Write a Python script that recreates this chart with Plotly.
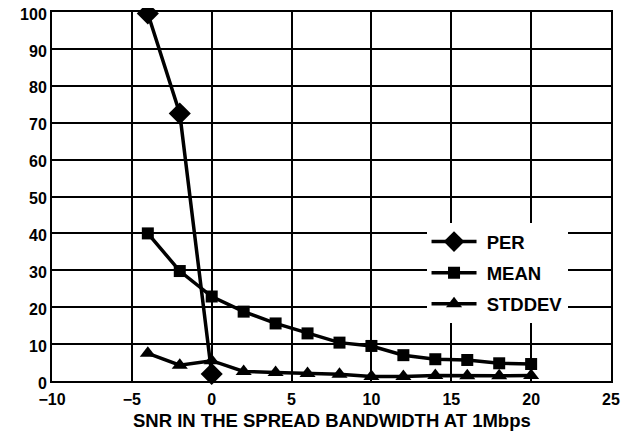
import plotly.graph_objects as go

snr_per = [-4, -2, 0]
per = [99.6, 72.5, 1.9]

snr = [-4, -2, 0, 2, 4, 6, 8, 10, 12, 14, 16, 18, 20]
mean = [40, 29.8, 22.9, 18.8, 15.6, 12.9, 10.4, 9.5, 7.0, 5.9, 5.7, 4.8, 4.6]
stddev = [7.5, 4.3, 5.5, 2.6, 2.3, 2.0, 1.8, 1.2, 1.2, 1.5, 1.4, 1.4, 1.5]

x_ticks = [-10, -5, 0, 5, 10, 15, 20, 25]
y_ticks = [0, 10, 20, 30, 40, 50, 60, 70, 80, 90, 100]

FAM = "Liberation Sans, Arial, sans-serif"
TICKFONT = dict(size=16, family=FAM, color="black", weight="bold")

fig = go.Figure()
fig.add_trace(go.Scatter(x=snr_per, y=per, name=" PER", mode="lines+markers",
                         line=dict(color="black", width=3.5),
                         marker=dict(symbol="diamond", size=17, color="black"),
                         legendgroup="a", cliponaxis=False))
fig.add_trace(go.Scatter(x=snr, y=mean, name=" MEAN", mode="lines+markers",
                         line=dict(color="black", width=3.5),
                         marker=dict(symbol="square", size=12, color="black"),
                         legendgroup="b"))
fig.add_trace(go.Scatter(x=snr, y=stddev, name=" STDDEV", mode="lines+markers",
                         line=dict(color="black", width=3.5),
                         marker=dict(symbol="triangle-up", size=14, color="black"),
                         legendgroup="c"))

# white panel behind the legend, covering the grid
fig.add_shape(type="rect", xref="paper", yref="paper",
              x0=0.653, x1=0.968, y0=0.138, y1=0.442,
              fillcolor="white", line=dict(width=0), layer="between")

fig.update_layout(
    template="none",
    width=635, height=440,
    margin=dict(l=44, r=32, t=4, b=67),
    paper_bgcolor="white", plot_bgcolor="white",
    font=dict(family=FAM, size=16, color="black", weight="bold"),
    showlegend=True,
    legend=dict(x=0.67, y=0.428, xanchor="left", yanchor="top",
                bgcolor="white", borderwidth=0,
                font=dict(size=18.5, family=FAM, color="black", weight="bold"),
                itemwidth=45, tracegroupgap=4, traceorder="grouped"),
    xaxis=dict(range=[-10, 25], tickvals=x_ticks,
               showgrid=True, gridcolor="black", gridwidth=2, zeroline=False,
               showline=True, linecolor="black", linewidth=2, mirror=True,
               ticks="", tickfont=TICKFONT, automargin=False, ticklabeloverflow="allow",
               ticklabelstandoff=3),
    yaxis=dict(range=[0, 100], tickvals=y_ticks,
               showgrid=True, gridcolor="black", gridwidth=2, zeroline=False,
               showline=True, linecolor="black", linewidth=2, mirror=True,
               ticks="", tickfont=TICKFONT, automargin=False, ticklabeloverflow="allow",
               ticklabelshift=2),
    annotations=[dict(text="SNR IN THE SPREAD BANDWIDTH AT 1Mbps",
                      xref="paper", yref="paper", x=0.5, y=-0.108,
                      xanchor="center", yanchor="middle", showarrow=False,
                      font=dict(size=18.5, family=FAM, color="black", weight="bold"))],
)

fig.write_html("out.html")
